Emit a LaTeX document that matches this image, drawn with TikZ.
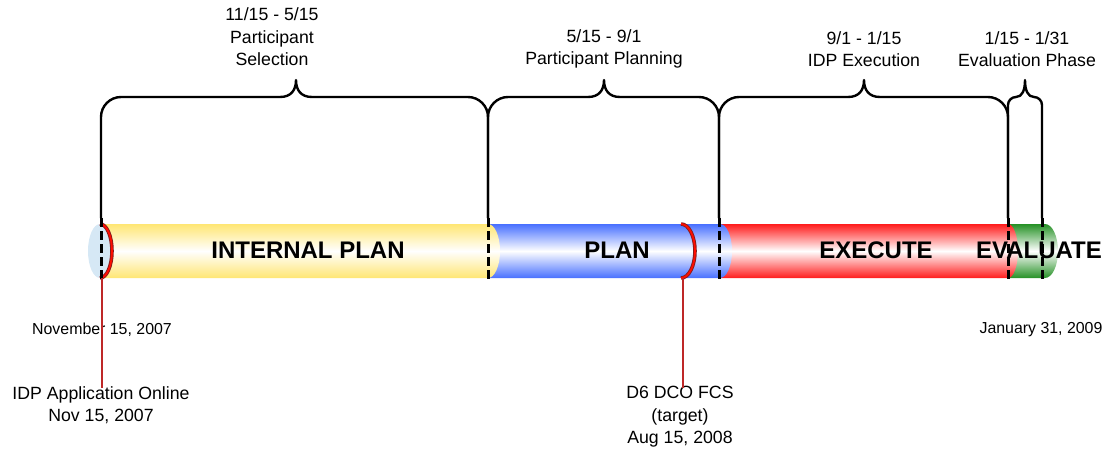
\documentclass[tikz,border=0pt]{standalone}
\usepackage{fontspec}
\setmainfont{Liberation Sans}
\usetikzlibrary{calc}
\definecolor{segyellow}{RGB}{255,230,115}
\definecolor{segblue}{RGB}{72,112,255}
\definecolor{segred}{RGB}{255,28,28}
\definecolor{seggreen}{RGB}{38,145,38}
\definecolor{capblue}{RGB}{214,232,245}
\definecolor{markred}{RGB}{190,40,40}
\def\segment[#1](#2:#3:#4){\shade[top color=#1, bottom color=#1, middle color=white] (#2,224) -- (#3,224) arc (-90:90:#4 and 27) -- (#2,278) -- cycle;}
\def\bracket[#1](#2:#3:#4:#5:#6){\draw[#1] (#2,218) -- (#2,{97+#5}) .. controls (#2,{97+0.45*#5}) and ({#2+0.45*#5},97) .. ({#2+#5},97) -- ({#3-#6},97) .. controls ({#3-0.3*#6},97) and (#3,90) .. (#3,80) .. controls (#3,90) and ({#3+0.3*#6},97) .. ({#3+#6},97) -- ({#4-#5},97) .. controls ({#4-0.45*#5},97) and (#4,{97+0.45*#5}) .. (#4,{97+#5}) -- (#4,218);}
\tikzset{
  lbl/.style={font=\fontsize{17.7}{22.5}\selectfont, align=center, inner sep=1pt},
  datelbl/.style={font=\fontsize{15.9}{19}\selectfont, inner sep=1pt},
  seglbl/.style={font=\fontsize{24}{28}\selectfont\bfseries, inner sep=0pt},
  brace/.style={line width=2.4pt, line join=round},
  phase/.style={line width=3pt, dash pattern=on 9pt off 4pt},
  marker/.style={draw=markred!70!black, double=red!90!orange, line width=0.9pt, double distance=1.8pt},
  pin/.style={markred, line width=1.7pt}
}
\begin{document}
\begin{tikzpicture}[x=1pt, y=-1pt]
		%%%%% START %%%%%
		\useasboundingbox (0,0) rectangle (1106,452);
		
		% cylinder, drawn right to left so each end cap overlaps the next
		\segment[seggreen](1008:1045:13);
		\segment[segred](720:1008:10);
		\segment[segblue](488:720:12);
		\segment[segyellow](100:488:12);
		\fill[capblue] (100,251) ellipse (12 and 27);
		
		\draw[marker] (100,224) arc (-90:90:12 and 27);
		\draw[marker] (681,224) arc (-90:90:14 and 27);
		
		\node[seglbl] (internal) at (308,250) {INTERNAL PLAN};
		\node[seglbl] (plan) at (617,250) {PLAN};
		\node[seglbl] (execute) at (876,250) {EXECUTE};
		\node[seglbl] (evaluate) at (1039,250) {EVALUATE};
		
		\foreach \x in {101,488,719,1008,1042}
			\draw[phase] (\x,218) -- (\x,281);
		
		% phase brackets
		\bracket[brace](101:296:488:20:16);
		\bracket[brace](488:604:719:20:16);
		\bracket[brace](719:864:1008:20:16);
		\bracket[brace](1008:1025:1042:8:9);
		
		\node[lbl] (selection) at (272,37) {11/15 - 5/15\\Participant\\Selection};
		\node[lbl] (planning) at (604,49) {5/15 - 9/1\\Participant Planning};
		\node[lbl] (idpexec) at (864,49) {9/1 - 1/15\\IDP Execution};
		\node[lbl] (evalphase) at (1027,49) {1/15 - 1/31\\Evaluation Phase};
		
		\node[datelbl] (start) at (102,330) {November 15, 2007};
		\node[datelbl] (finish) at (1041,330) {January 31, 2009};
		
		% milestones
		\coordinate (online) at (102,278);
		\coordinate (fcs) at (683,278);
		\node[lbl, anchor=north] (onlinelbl) at (101,385) {IDP Application Online\\Nov 15, 2007};
		\node[lbl, anchor=north] (fcslbl) at (680,385) {D6 DCO FCS\\(target)\\Aug 15, 2008};
		\draw[pin] (online) -- ([yshift=-3pt]online |- onlinelbl.north);
		\draw[pin] (fcs) -- ([yshift=-3pt]fcs |- fcslbl.north);
		
		%%%%% END %%%%%
	\end{tikzpicture}
\end{document}
